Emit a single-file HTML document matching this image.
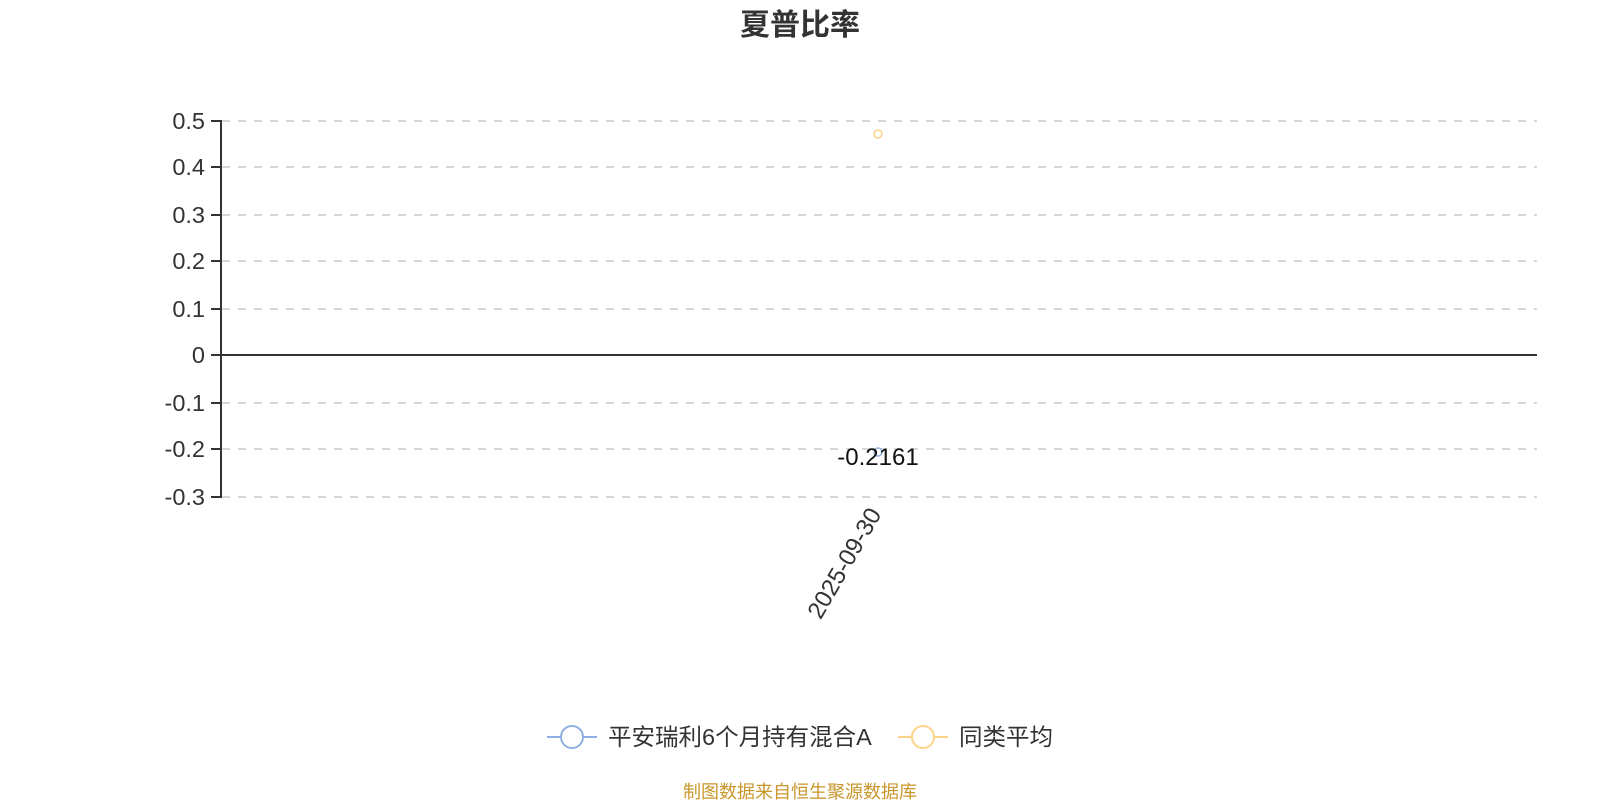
<!DOCTYPE html>
<html><head><meta charset="utf-8"><style>
html,body{margin:0;padding:0;background:#fff;width:1600px;height:800px;overflow:hidden}
svg text{font-family:"Liberation Sans","Noto Sans CJK SC",sans-serif}
</style></head><body>
<svg width="1600" height="800" viewBox="0 0 1600 800" xmlns="http://www.w3.org/2000/svg">
<text x="800" y="35" text-anchor="middle" font-size="30" font-weight="bold" fill="#333">夏普比率</text>
<g stroke="#ccc" stroke-width="1.5" stroke-dasharray="8,8">
<line x1="222" y1="121" x2="1537" y2="121"/>
<line x1="222" y1="167" x2="1537" y2="167"/>
<line x1="222" y1="215" x2="1537" y2="215"/>
<line x1="222" y1="261" x2="1537" y2="261"/>
<line x1="222" y1="309" x2="1537" y2="309"/>
<line x1="222" y1="403" x2="1537" y2="403"/>
<line x1="222" y1="449" x2="1537" y2="449"/>
<line x1="222" y1="497" x2="1537" y2="497"/>
</g>
<line x1="221" y1="355" x2="1537" y2="355" stroke="#333" stroke-width="2"/>
<line x1="221" y1="120" x2="221" y2="498" stroke="#333" stroke-width="2"/>
<g stroke="#333" stroke-width="2">
<line x1="211" y1="121" x2="221" y2="121"/><line x1="211" y1="167" x2="221" y2="167"/>
<line x1="211" y1="215" x2="221" y2="215"/><line x1="211" y1="261" x2="221" y2="261"/>
<line x1="211" y1="309" x2="221" y2="309"/><line x1="211" y1="355" x2="221" y2="355"/>
<line x1="211" y1="403" x2="221" y2="403"/><line x1="211" y1="449" x2="221" y2="449"/>
<line x1="211" y1="497" x2="221" y2="497"/>
</g>
<g font-size="23.5" fill="#333" text-anchor="end">
<text x="205" y="129">0.5</text><text x="205" y="175">0.4</text>
<text x="205" y="223">0.3</text><text x="205" y="269">0.2</text>
<text x="205" y="317">0.1</text><text x="205" y="363">0</text>
<text x="205" y="411">-0.1</text><text x="205" y="457">-0.2</text>
<text x="205" y="505">-0.3</text>
</g>
<circle cx="878" cy="134" r="4" fill="#fff" stroke="#fdd38a" stroke-width="1.5"/>
<circle cx="878" cy="452" r="4" fill="#fff" stroke="#8eb0e0" stroke-width="1.5"/>
<text x="878" y="465" text-anchor="middle" font-size="24" fill="#111">-0.2161</text>
<text transform="translate(882,514) rotate(-60)" text-anchor="end" font-size="24" fill="#333">2025-09-30</text>
<line x1="547" y1="737" x2="597" y2="737" stroke="#8eb0e0" stroke-width="2"/>
<circle cx="572" cy="737" r="11" fill="#fff" stroke="#8eb0e0" stroke-width="2"/>
<text x="608" y="745" font-size="23.5" fill="#333">平安瑞利6个月持有混合A</text>
<line x1="898" y1="737" x2="948" y2="737" stroke="#fdd38a" stroke-width="2"/>
<circle cx="923" cy="737" r="11" fill="#fff" stroke="#fdd38a" stroke-width="2"/>
<text x="959" y="745" font-size="23.5" fill="#333">同类平均</text>
<text x="800" y="798" text-anchor="middle" font-size="18" fill="#c9962b">制图数据来自恒生聚源数据库</text>
</svg>
</body></html>
